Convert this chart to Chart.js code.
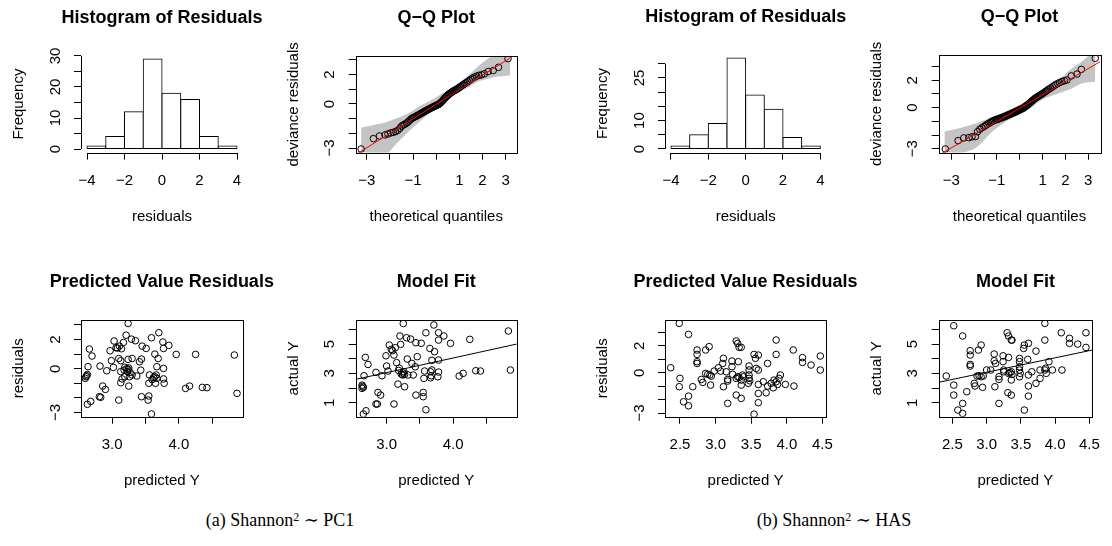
<!DOCTYPE html>
<html>
<head>
<meta charset="utf-8">
<script src="https://cdn.jsdelivr.net/npm/chart.js@4.4.0/dist/chart.umd.min.js"></script>
<style>
body { margin: 0; background: #fff; }
#page { position: relative; width: 1112px; height: 546px; overflow: hidden; background: #fff; }
canvas { position: absolute; }
.cap { position: absolute; top: 509px; width: 400px; text-align: center; line-height: 22px;
  font-family: 'Liberation Serif', 'DejaVu Serif', serif; font-size: 18px; color: #000; }
.cap sup { font-size: 12px; position: relative; top: -0.45em; vertical-align: baseline; }
</style>
</head>
<body>
<div id="page">
  <canvas id="histA"></canvas>
  <canvas id="qqA"></canvas>
  <canvas id="histB"></canvas>
  <canvas id="qqB"></canvas>
  <canvas id="resA"></canvas>
  <canvas id="fitA"></canvas>
  <canvas id="resB"></canvas>
  <canvas id="fitB"></canvas>
  <div class="cap" style="left:80px">(a) Shannon<sup>2</sup> ∼ PC1</div>
  <div class="cap" style="left:634px">(b) Shannon<sup>2</sup> ∼ HAS</div>
</div>
<script>
'use strict';
Chart.defaults.font.family = "'Liberation Sans', Arial, Helvetica, sans-serif";
Chart.defaults.font.size = 15;
Chart.defaults.color = '#000';

// histograms of residuals (bin centres, counts)
let binMids = [-3.5, -2.5, -1.5, -0.5, 0.5, 1.5, 2.5, 3.5];
let histCountsA = [1, 4, 12, 29, 18, 16, 4, 1];
let histCountsB = [1, 5, 9, 32, 19, 14, 4, 1];
let histTicksX = [-4, -2, 0, 2, 4];
let histLabelsX = ['−4', '−2', '0', '2', '4'];
let histTicksY = [0, 5, 10, 15, 20, 25, 30];
let histLabelsYA = ['0', '', '10', '', '20', '', '30'];
let histLabelsYB = ['0', '', '10', '', '', '25', ''];

// Q-Q plots
let qqTicks = [-3, -2, -1, 0, 1, 2, 3];
let qqLabelsX = ['−3', '', '−1', '', '1', '2', '3'];
let qqLabelsY = ['−3', '', '', '0', '', '2', ''];
let qqAx = [-3.24,-2.71,-2.45,-2.21,-2.08,-1.96,-1.85,-1.75,-1.66,-1.57,-1.50,-1.43,-1.36,-1.29,-1.23,-1.17,-1.12,-1.06,-1.01,-0.96,
  -0.91,-0.86,-0.82,-0.77,-0.72,-0.68,-0.64,-0.59,-0.55,-0.51,-0.47,-0.43,-0.39,-0.35,-0.31,-0.27,-0.23,-0.19,-0.15,-0.11,
  -0.08,-0.04,0,0.04,0.08,0.11,0.15,0.19,0.23,0.27,0.31,0.35,0.39,0.43,0.47,0.51,0.55,0.59,0.64,0.68,
  0.72,0.77,0.82,0.86,0.91,0.96,1.01,1.06,1.12,1.17,1.23,1.29,1.36,1.43,1.50,1.57,1.66,1.75,1.85,1.96,
  2.08,2.24,2.46,2.69,3.10];
let qqAy = [-3.07,-2.36,-2.18,-2.11,-2.04,-1.97,-1.93,-1.88,-1.80,-1.66,-1.52,-1.44,-1.38,-1.31,-1.24,-1.16,-1.08,
  -0.99,-0.95,-0.91,-0.87,-0.83,-0.79,-0.75,-0.71,-0.67,-0.63,-0.59,-0.55,-0.51,-0.48,-0.45,-0.41,-0.38,-0.35,-0.31,-0.28,
  -0.25,-0.22,-0.19,-0.16,-0.13,-0.10,-0.07,-0.05,-0.02,
  0.03,0.08,0.14,0.21,0.28,0.36,0.43,0.49,0.55,0.61,0.67,0.72,0.77,0.82,0.87,0.91,0.95,0.99,
  1.03,1.08,1.14,1.20,1.26,1.32,1.38,1.45,1.52,1.60,1.68,1.76,1.83,1.90,1.95,1.99,
  2.06,2.21,2.28,2.50,3.09];
let qqBx = [-3.26,-2.70,-2.45,-2.23,-2.09,-1.94,-1.85,-1.75,-1.66,-1.57,-1.50,-1.43,-1.36,-1.29,-1.23,-1.17,-1.12,-1.06,-1.01,-0.96,
  -0.91,-0.86,-0.82,-0.77,-0.72,-0.68,-0.64,-0.59,-0.55,-0.51,-0.47,-0.43,-0.39,-0.35,-0.31,-0.27,-0.23,-0.19,-0.15,-0.11,
  -0.08,-0.04,0,0.04,0.08,0.11,0.15,0.19,0.23,0.27,0.31,0.35,0.39,0.43,0.47,0.51,0.55,0.59,0.64,0.68,
  0.72,0.77,0.82,0.86,0.91,0.96,1.01,1.06,1.12,1.17,1.23,1.29,1.36,1.43,1.50,1.57,1.66,1.75,1.85,1.96,
  2.07,2.26,2.51,2.70,3.31];
let qqBy = [-3.02,-2.41,-2.21,-2.19,-2.13,-2.11,
  -1.76,-1.58,-1.47,-1.38,-1.30,-1.22,-1.15,-1.08,-1.02,
  -0.97,-0.93,-0.90,-0.87,-0.84,-0.81,-0.78,-0.75,-0.72,-0.69,-0.66,-0.63,-0.60,-0.57,-0.54,-0.51,-0.48,-0.45,-0.42,-0.39,
  -0.36,-0.33,-0.30,-0.27,-0.24,-0.21,-0.18,-0.15,-0.12,-0.09,-0.06,-0.03,
  0.02,0.07,0.12,0.17,0.22,0.27,0.33,0.39,0.45,0.51,0.57,0.63,0.69,0.74,0.79,0.84,0.89,0.94,0.98,
  1.04,1.10,1.16,1.23,1.30,1.37,1.44,1.52,1.60,1.68,1.76,1.84,1.91,1.97,
  2.02,2.32,2.46,2.80,3.61];
// grey simulation envelopes
let envAx = [-3.24, -2.7, -2.2, -1.7, -1.2, -0.7, -0.2, 0.3, 0.8, 1.3, 1.8, 2.2, 2.5, 3.2];
let envAhi = [-1.61, -1.43, -1.27, -0.98, -0.64, -0.14, 0.27, 0.77, 1.23, 1.82, 2.55, 3.05, 3.4, 4.0];
let envAlo = [-3.25, -3.5, -3.5, -2.68, -1.89, -1.2, -0.52, 0.05, 0.61, 1.07, 1.52, 1.7, 1.82, 1.95];
let envBx = [-3.3, -2.67, -1.94, -1.21, -0.48, 0.25, 0.98, 1.71, 2.29, 2.73, 3.31];
let envBhi = [-1.76, -1.51, -1.15, -0.66, -0.17, 0.44, 1.17, 2.02, 2.88, 3.37, 4.3];
let envBlo = [-3.22, -3.34, -2.95, -1.76, -0.9, -0.29, 0.56, 1.05, 1.41, 1.78, 1.9];
let qqLineAx = [-3.48, 3.48];
let qqLineAy = [-3.46, 3.42];
let qqLineBx = [-3.55, 3.53];
let qqLineBy = [-3.47, 3.37];

// predicted value residuals
let resTicksYLabels = ['−3', '', '', '0', '', '2', ''];
let predTicksA = [3.0, 3.5, 4.0, 4.5];
let predLabelsA = ['3.0', '', '4.0', ''];
let predTicksB = [2.5, 3.0, 3.5, 4.0, 4.5];
let predLabelsB = ['2.5', '3.0', '3.5', '4.0', '4.5'];
let residPredA = [2.60,2.61,2.62,2.63,2.64,2.66,2.70,2.63,2.68,2.82,2.86,2.90,2.81,2.83,2.92,2.97,2.99,3.02,3.03,3.06,
  3.08,3.10,3.11,3.10,3.13,3.14,3.13,3.13,3.15,3.17,3.18,3.19,3.19,3.21,3.22,3.23,3.24,3.25,3.24,3.24,
  3.25,3.26,3.27,3.29,3.30,3.30,3.35,3.37,3.41,3.44,3.43,3.45,3.44,3.51,3.55,3.54,3.55,3.56,3.59,3.59,
  3.64,3.64,3.66,3.67,3.65,3.67,3.69,3.70,3.62,3.60,3.76,3.77,3.77,3.77,3.78,3.85,3.96,4.10,4.16,4.25,
  4.35,4.42,4.83,4.87];
let residValA = [-0.66,-0.55,-0.48,-0.40,0.14,1.35,0.87,-2.44,-2.24,0.18,-1.19,-1.42,-1.92,-1.96,-0.14,1.23,0.55,0.09,1.90,1.44,
  1.42,0.70,1.55,-2.15,0.55,1.37,-0.20,-0.96,-0.70,1.80,-0.10,0.10,-0.55,2.30,0.00,-0.20,-0.05,0.05,3.10,0.64,
  -1.19,-0.55,-0.25,2.03,0.70,-0.43,1.92,-0.50,0.48,0.66,-0.10,1.55,-1.92,1.39,-1.87,-2.15,-1.00,-0.43,2.12,-3.10,
  1.00,-0.55,-0.43,-0.66,-1.00,0.14,0.70,2.47,-0.60,-0.75,1.83,1.39,0.02,-0.70,-1.00,1.60,0.98,-1.35,-1.19,0.98,
  -1.28,-1.30,0.94,-1.69];
let residPredB = [2.37,2.49,2.50,2.49,2.62,2.55,2.62,2.62,2.68,2.74,2.74,2.74,2.74,2.80,2.82,2.86,2.91,2.86,2.89,2.92,
  2.94,2.93,2.98,3.04,3.07,3.10,3.11,3.11,3.15,3.17,3.17,3.17,3.23,3.23,3.24,3.29,3.31,3.33,3.36,3.29,
  3.31,3.33,3.36,3.32,3.29,3.36,3.36,3.38,3.39,3.47,3.47,3.47,3.47,3.48,3.46,3.54,3.56,3.57,3.54,3.60,
  3.60,3.60,3.60,3.60,3.67,3.73,3.73,3.71,3.78,3.81,3.82,3.85,3.85,3.85,3.87,3.89,3.91,3.98,4.09,4.10,
  4.22,4.22,4.34,4.47,4.47];
let residValB = [0.37,3.67,-0.42,-1.04,2.85,-2.16,-1.74,-2.46,-1.04,1.69,1.36,0.82,0.69,-0.50,-0.72,1.69,1.94,-0.05,-0.12,-0.17,
  -0.25,-0.92,0.12,0.37,0.12,0.69,1.07,-1.04,0.07,-0.50,-0.62,-2.28,0.87,0.45,-0.12,2.36,2.18,1.89,1.89,-0.42,
  -0.30,-0.35,-0.55,0.82,-1.66,-1.91,-0.92,-0.17,-0.30,0.50,0.20,-0.17,-0.42,-0.60,-0.79,1.36,1.07,0.32,-3.08,1.31,
  0.20,-0.87,-1.54,-2.23,-0.67,0.69,-0.99,-1.49,-0.79,-1.12,-0.55,-0.67,2.43,1.36,-0.87,-0.42,-0.17,-0.87,1.69,-0.99,
  1.12,0.77,0.57,1.24,0.20];

// model fit: actual vs predicted
let fitTicksY = [1, 2, 3, 4, 5, 6];
let fitLabelsY = ['1', '', '3', '', '5', ''];
let fitPredA = [2.65,2.69,2.63,2.65,2.63,2.64,2.68,2.72,2.66,2.84,2.87,2.91,2.84,2.86,2.93,2.99,3.00,3.02,3.04,3.07,
  3.09,3.11,3.13,3.11,3.15,3.17,3.18,3.19,3.20,3.21,3.22,3.25,3.26,3.27,3.25,3.24,3.27,3.30,3.31,3.32,
  3.36,3.38,3.40,3.43,3.44,3.46,3.44,3.52,3.55,3.55,3.56,3.59,3.59,3.57,3.65,3.66,3.67,3.66,3.68,3.68,
  3.71,3.72,3.78,3.78,3.78,3.78,3.77,3.86,3.96,4.09,4.15,4.25,4.34,4.41,4.83,4.86];
let fitActA = [0.23,0.45,2.20,2.05,1.98,2.12,4.09,3.61,2.84,3.07,1.70,1.52,0.91,0.91,2.84,4.20,3.50,3.16,4.93,4.64,
  4.55,4.25,4.75,0.91,3.73,2.27,3.20,3.36,5.55,4.98,2.95,6.40,3.11,2.93,3.02,2.89,2.09,5.43,3.98,2.89,
  5.34,3.68,2.89,3.45,5.09,4.14,1.52,5.05,1.70,1.41,2.66,5.77,0.52,3.16,4.70,3.11,2.84,2.70,3.23,3.89,
  6.30,4.48,5.77,5.27,3.91,3.09,2.77,5.55,5.05,2.82,3.00,5.32,3.18,3.16,5.89,3.23];
let fitPredB = [2.41,2.52,2.52,2.52,2.58,2.65,2.65,2.65,2.71,2.76,2.76,2.76,2.76,2.82,2.83,2.88,2.92,2.86,2.89,2.92,
  2.95,2.94,3.00,3.06,3.11,3.11,3.12,3.13,3.18,3.18,3.18,3.24,3.24,3.25,3.25,3.30,3.32,3.36,3.37,3.32,
  3.34,3.36,3.37,3.36,3.31,3.36,3.32,3.48,3.48,3.48,3.48,3.49,3.48,3.54,3.55,3.55,3.60,3.61,3.61,3.61,
  3.61,3.66,3.72,3.72,3.78,3.78,3.85,3.85,3.85,3.86,3.87,3.91,3.96,4.10,4.09,4.21,4.21,4.33,4.45,4.45];
let fitActB = [2.82,6.25,2.20,1.52,0.50,0.95,0.27,5.55,1.75,4.55,4.25,3.61,3.50,2.32,2.14,4.59,4.93,2.82,2.84,2.77,
  2.82,2.05,3.23,3.23,4.32,3.86,2.09,3.68,2.77,2.59,0.95,4.20,3.80,3.11,3.23,5.77,5.55,5.27,5.27,3.00,
  3.05,3.11,2.93,2.55,1.68,1.52,4.09,4.02,3.80,3.45,3.23,3.00,2.77,4.70,4.93,0.50,3.95,5.05,2.89,2.14,
  1.45,3.11,4.52,2.32,2.66,3.23,6.41,5.27,3.23,3.34,3.00,3.80,3.23,3.23,5.77,5.39,5.05,5.00,5.77,4.77];
let fitLineAx = [2.535, 4.955];
let fitLineAy = [2.59, 5.0];
let fitLineBx = [2.30, 4.54];
let fitLineBy = [2.39, 4.59];

function pts(xs, ys) {
    return xs.map((x, i) => ({ x: x, y: ys[i] }));
}

// box round the plot, or R style axis lines that stop at the end ticks, plus the bold title
let rStyle = {
    id: 'rStyle',
    afterDraw(chart, args, opts) {
        let ctx = chart.ctx;
        let a = chart.chartArea;
        ctx.save();
        ctx.strokeStyle = '#000';
        ctx.lineWidth = 1;
        if (opts.box) {
            ctx.strokeRect(Math.round(a.left) + 0.5, Math.round(a.top) + 0.5,
                Math.round(a.right - a.left), Math.round(a.bottom - a.top));
        } else {
            let xs = chart.scales.x, ys = chart.scales.y;
            let xt = xs.ticks, yt = ys.ticks;
            let yb = Math.round(a.bottom) + 0.5;
            let xl = Math.round(a.left) + 0.5;
            ctx.beginPath();
            ctx.moveTo(xs.getPixelForValue(xt[0].value), yb);
            ctx.lineTo(xs.getPixelForValue(xt[xt.length - 1].value), yb);
            ctx.moveTo(xl, ys.getPixelForValue(yt[0].value));
            ctx.lineTo(xl, ys.getPixelForValue(yt[yt.length - 1].value));
            ctx.stroke();
        }
        ctx.fillStyle = '#000';
        ctx.font = "bold 18px 'Liberation Sans', Arial, Helvetica, sans-serif";
        ctx.textAlign = 'center';
        ctx.textBaseline = 'middle';
        ctx.fillText(opts.title, (a.left + a.right) / 2, a.top - 37.5);
        ctx.restore();
    }
};

let measureCtx = document.createElement('canvas').getContext('2d');
measureCtx.font = "15px 'Liberation Sans', Arial, Helvetica, sans-serif";
function widest(labels) {
    return Math.max(...labels.map(s => measureCtx.measureText(s).width));
}

// box = canvas [left, top, width, height] on the page, area = plot region [left, top, right, bottom]
function makePanel(id, box, area, p) {
    let cv = document.getElementById(id);
    cv.style.left = box[0] + 'px';
    cv.style.top = box[1] + 'px';
    cv.width = box[2];
    cv.height = box[3];
    let yW = area[0] - box[0];
    let xH = box[1] + box[3] - area[3];
    let yTitlePad = (area[0] - 62) - box[0] - 9;
    let xTitlePad = (box[1] + box[3]) - (area[3] + 64.5) - 9;
    let yPad = 25.5 - 7 - widest(p.yLabels) / 2;
    let gridOpts = { display: true, drawOnChartArea: false, drawTicks: true, tickLength: 7, color: '#000', lineWidth: 1, offset: false };
    return new Chart(cv, {
        type: p.type,
        data: { datasets: p.datasets },
        options: {
            responsive: false,
            animation: false,
            events: [],
            layout: { autoPadding: false, padding: { left: 0, bottom: 0, top: area[1] - box[1], right: box[0] + box[2] - area[2] } },
            plugins: {
                legend: { display: false },
                tooltip: { enabled: false },
                rStyle: { box: p.box, title: p.title }
            },
            scales: {
                x: {
                    type: 'linear', offset: false, min: p.xRange[0], max: p.xRange[1],
                    grid: gridOpts, border: { display: false },
                    afterBuildTicks: s => { s.ticks = p.xTicks.map(v => ({ value: v })); },
                    afterFit: s => { s.height = xH; },
                    ticks: { autoSkip: false, maxRotation: 0, minRotation: 0, padding: 12, callback: (v, i) => p.xLabels[i] },
                    title: { display: true, text: p.xTitle, padding: { top: 0, bottom: xTitlePad } }
                },
                y: {
                    type: 'linear', min: p.yRange[0], max: p.yRange[1],
                    grid: gridOpts, border: { display: false },
                    afterBuildTicks: s => { s.ticks = p.yTicks.map(v => ({ value: v })); },
                    afterFit: s => { s.width = yW; },
                    ticks: { autoSkip: false, minRotation: 90, maxRotation: 90, crossAlign: 'center', padding: yPad, callback: (v, i) => p.yLabels[i] },
                    title: { display: true, text: p.yTitle, padding: { top: yTitlePad, bottom: 0 } }
                }
            }
        },
        plugins: [rStyle]
    });
}

function histSet(counts) {
    return [{
        type: 'bar', data: pts(binMids, counts),
        backgroundColor: '#fff', borderColor: '#000', borderWidth: 1, borderSkipped: false,
        barPercentage: 1, categoryPercentage: 1, inflateAmount: 0.5
    }];
}

function circles(xs, ys) {
    return {
        type: 'scatter', data: pts(xs, ys), showLine: false,
        pointRadius: 3.3, pointBorderWidth: 1, pointBorderColor: '#000', pointBackgroundColor: 'rgba(0,0,0,0)'
    };
}

function straight(xs, ys, colour) {
    return { type: 'line', data: pts(xs, ys), borderColor: colour, borderWidth: 1, pointRadius: 0, fill: false, tension: 0 };
}

function qqSets(qx, qy, ex, elo, ehi, lx, ly) {
    return [
        straight(lx, ly, '#ff0000'),
        circles(qx, qy),
        { type: 'line', data: pts(ex, ehi), borderWidth: 0, pointRadius: 0, fill: '+1', backgroundColor: '#c4c4c4', tension: 0.3 },
        { type: 'line', data: pts(ex, elo), borderWidth: 0, pointRadius: 0, fill: false, tension: 0.3 }
    ];
}

makePanel('histA', [0, 0, 278, 232], [81, 55.5, 243, 152.6], {
    type: 'bar', box: false, title: 'Histogram of Residuals', xTitle: 'residuals', yTitle: 'Frequency',
    datasets: histSet(histCountsA), xRange: [-4.32, 4.32], yRange: [-1.16, 30.16],
    xTicks: histTicksX, xLabels: histLabelsX, yTicks: histTicksY, yLabels: histLabelsYA
});
makePanel('qqA', [280, 0, 276, 232], [355.7, 56, 516.7, 152.7], {
    type: 'scatter', box: true, title: 'Q−Q Plot', xTitle: 'theoretical quantiles', yTitle: 'deviance residuals',
    datasets: qqSets(qqAx, qqAy, envAx, envAlo, envAhi, qqLineAx, qqLineAy),
    xRange: [-3.475, 3.475], yRange: [-3.32, 3.27],
    xTicks: qqTicks, xLabels: qqLabelsX, yTicks: qqTicks, yLabels: qqLabelsY
});
makePanel('histB', [556, 0, 320, 232], [665, 54.4, 826.3, 152.6], {
    type: 'bar', box: false, title: 'Histogram of Residuals', xTitle: 'residuals', yTitle: 'Frequency',
    datasets: histSet(histCountsB), xRange: [-4.32, 4.32], yRange: [-1.28, 33.28],
    xTicks: histTicksX, xLabels: histLabelsX, yTicks: histTicksY, yLabels: histLabelsYB
});
makePanel('qqB', [834, 0, 278, 232], [938.7, 55, 1100.3, 152.7], {
    type: 'scatter', box: true, title: 'Q−Q Plot', xTitle: 'theoretical quantiles', yTitle: 'deviance residuals',
    datasets: qqSets(qqBx, qqBy, envBx, envBlo, envBhi, qqLineBx, qqLineBy),
    xRange: [-3.55, 3.53], yRange: [-3.29, 3.85],
    xTicks: qqTicks, xLabels: qqLabelsX, yTicks: qqTicks, yLabels: qqLabelsY
});
makePanel('resA', [0, 262, 300, 238], [81, 320, 242.7, 416.7], {
    type: 'scatter', box: true, title: 'Predicted Value Residuals', xTitle: 'predicted Y', yTitle: 'residuals',
    datasets: [circles(residPredA, residValA)], xRange: [2.535, 4.955], yRange: [-3.29, 3.34],
    xTicks: predTicksA, xLabels: predLabelsA, yTicks: qqTicks, yLabels: resTicksYLabels
});
makePanel('fitA', [280, 262, 276, 238], [355.7, 320, 516.7, 416.7], {
    type: 'scatter', box: true, title: 'Model Fit', xTitle: 'predicted Y', yTitle: 'actual Y',
    datasets: [straight(fitLineAx, fitLineAy, '#000'), circles(fitPredA, fitActA)],
    xRange: [2.535, 4.955], yRange: [0.046, 6.64],
    xTicks: predTicksA, xLabels: predLabelsA, yTicks: fitTicksY, yLabels: fitLabelsY
});
makePanel('resB', [556, 262, 320, 238], [665, 320, 826, 416.7], {
    type: 'scatter', box: true, title: 'Predicted Value Residuals', xTitle: 'predicted Y', yTitle: 'residuals',
    datasets: [circles(residPredB, residValB)], xRange: [2.29, 4.55], yRange: [-3.27, 3.92],
    xTicks: predTicksB, xLabels: predLabelsB, yTicks: qqTicks, yLabels: resTicksYLabels
});
makePanel('fitB', [834, 262, 278, 238], [938.7, 320, 1100.3, 416.7], {
    type: 'scatter', box: true, title: 'Model Fit', xTitle: 'predicted Y', yTitle: 'actual Y',
    datasets: [straight(fitLineBx, fitLineBy, '#000'), circles(fitPredB, fitActB)],
    xRange: [2.30, 4.54], yRange: [0.046, 6.64],
    xTicks: predTicksB, xLabels: predLabelsB, yTicks: fitTicksY, yLabels: fitLabelsY
});
</script>
</body>
</html>
